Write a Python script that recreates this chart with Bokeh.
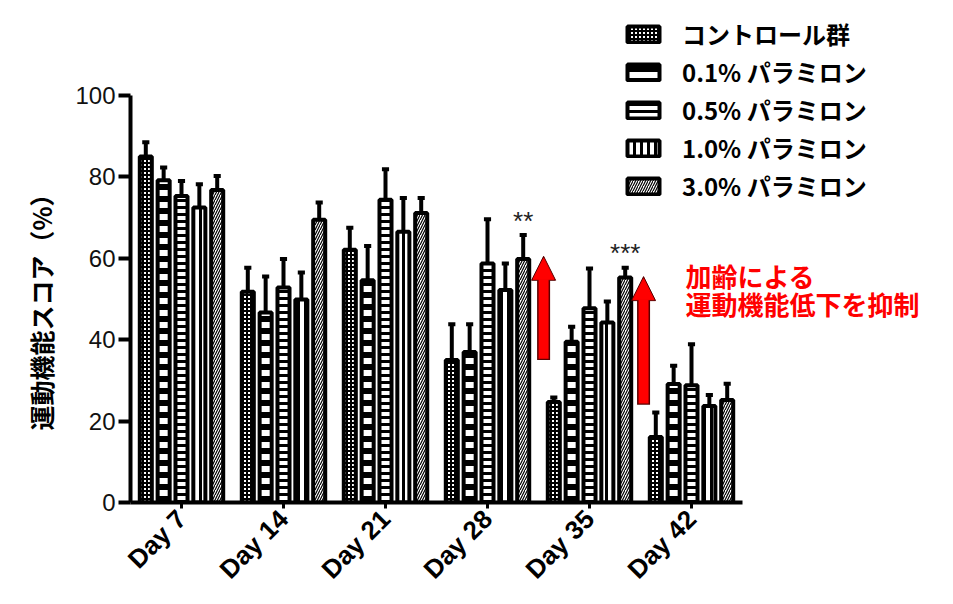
import math
from bokeh.plotting import figure
from bokeh.models import (FixedTicker, Legend, LegendItem, Label, Arrow, NormalHead,
                          ColumnDataSource, Range1d, Title)
from bokeh.embed import file_html
from bokeh.resources import INLINE

# ---------------- data ----------------
days = ["Day 7", "Day 14", "Day 21", "Day 28", "Day 35", "Day 42"]
groups = ["コントロール群", "0.1% パラミロン", "0.5% パラミロン", "1.0% パラミロン", "3.0% パラミロン"]

control = [85.0, 51.8, 62.1, 35.0, 24.7, 16.1]
control_sem = [3.5, 5.9, 5.4, 8.8, 1.1, 6.0]
p01 = [79.2, 46.7, 54.6, 37.0, 39.5, 29.1]
p01_sem = [3.1, 8.8, 8.4, 6.8, 3.7, 4.5]
p05 = [75.3, 52.8, 74.4, 58.7, 47.7, 28.8]
p05_sem = [3.7, 7.0, 7.5, 10.9, 9.8, 10.1]
p10 = [72.5, 49.9, 66.5, 52.2, 44.2, 23.7]
p10_sem = [5.7, 6.6, 8.3, 6.5, 5.2, 2.7]
p30 = [76.8, 69.5, 71.1, 59.8, 55.3, 25.2]
p30_sem = [3.4, 4.2, 3.7, 5.9, 2.4, 4.0]

y_ticks = [0, 20, 40, 60, 80, 100]
y_label = "運動機能スコア（%）"
signif = [("**", 3, 4), ("***", 4, 4)]   # (text, day index, group index)
note = ["加齢による", "運動機能低下を抑制"]

series = [control, p01, p05, p10, p30]
sems = [control_sem, p01_sem, p05_sem, p10_sem, p30_sem]

# ---------------- styles ----------------
hatches = [
    dict(hatch_pattern="+", hatch_scale=4, hatch_weight=2),
    dict(hatch_pattern="-", hatch_scale=12, hatch_weight=6),
    dict(hatch_pattern="-", hatch_scale=7, hatch_weight=3),
    dict(hatch_pattern="|", hatch_scale=7, hatch_weight=3),
    dict(hatch_pattern="/", hatch_scale=5, hatch_weight=1.2),
]
pitch = 0.175
bar_w = 0.118
PX_X = 102.0   # pixels per category
PX_Y = 4.07    # pixels per y unit
FRAME_W, FRAME_H = 823, 502

p = figure(width=953, height=604,
           x_range=Range1d(-0.5, -0.5 + FRAME_W / PX_X),
           y_range=Range1d(0, FRAME_H / PX_Y),
           output_backend="svg", toolbar_location=None,
           min_border_left=130, min_border_right=0, min_border_top=0, min_border_bottom=102)
p.outline_line_color = None
p.xgrid.visible = False
p.ygrid.visible = False
p.background_fill_color = "white"

renderers = []
for gi, (vals, sem) in enumerate(zip(series, sems)):
    xs = [i + (gi - 2) * pitch for i in range(len(days))]
    tops = [v + s for v, s in zip(vals, sem)]
    src = ColumnDataSource(dict(x=xs, top=vals, etop=tops,
                                xl=[x - 0.035 for x in xs], xr=[x + 0.035 for x in xs]))
    r = p.vbar(x="x", top="top", width=bar_w, bottom=0, source=src,
               fill_color="white", line_color="black", line_width=4,
               hatch_color="black", **hatches[gi])
    renderers.append(r)
    p.segment(x0="x", y0="top", x1="x", y1="etop", source=src, line_color="black", line_width=4)
    p.segment(x0="xl", y0="etop", x1="xr", y1="etop", source=src, line_color="black", line_width=4)

# ---------------- axes ----------------
p.xaxis.bounds = (-0.62, 5.5)
p.xaxis.ticker = FixedTicker(ticks=list(range(len(days))))
p.xaxis.major_label_overrides = {i: d for i, d in enumerate(days)}
p.xaxis.major_label_orientation = math.pi / 4
p.xaxis.major_label_text_font = "Liberation Sans"
p.xaxis.major_label_text_font_style = "bold"
p.xaxis.major_label_text_font_size = "26px"
p.xaxis.major_label_text_color = "black"
p.xaxis.major_tick_in = 0
p.xaxis.major_tick_out = 6
p.xaxis.major_tick_line_width = 3
p.xaxis.minor_tick_line_color = None
p.xaxis.axis_line_width = 4
p.xaxis.major_label_standoff = 6

p.yaxis.bounds = (0, 100)
p.yaxis.ticker = FixedTicker(ticks=y_ticks)
p.yaxis.major_label_text_font = "Liberation Sans"
p.yaxis.major_label_text_font_size = "24px"
p.yaxis.major_label_text_color = "#111111"
p.yaxis.major_tick_in = 0
p.yaxis.major_tick_out = 12
p.yaxis.major_tick_line_width = 4
p.yaxis.minor_tick_line_color = None
p.yaxis.axis_line_width = 4
p.yaxis.major_label_standoff = 3

ytitle = Title(text=y_label, align="left", offset=72, standoff=28,
               text_font="Noto Sans CJK JP", text_font_style="bold",
               text_font_size="25px", text_color="black")
p.add_layout(ytitle, "left")

# ---------------- legend ----------------
legend = Legend(items=[LegendItem(label=g, renderers=[r]) for g, r in zip(groups, renderers)],
                location=(493, 299), glyph_width=40, glyph_height=20, label_height=20,
                spacing=3, label_standoff=19, padding=0, margin=0,
                border_line_color=None, background_fill_alpha=0)
legend.label_text_font = "Noto Sans CJK JP"
legend.label_text_font_style = "bold"
legend.label_text_font_size = "24px"
legend.label_text_color = "black"
p.add_layout(legend)

# ---------------- significance marks ----------------
for txt, di, gi in signif:
    x = di + (gi - 2) * pitch
    y = series[gi][di] + sems[gi][di] + 3.5
    p.add_layout(Label(x=x, y=y, text=txt, text_align="center", text_baseline="middle",
                       text_font="Liberation Sans", text_font_size="26px", text_color="#222222"))

# ---------------- red arrows and note ----------------
arrows = [(3.55, 35.0, 61.5), (4.53, 24.0, 56.5)]
for ax, y0, y1 in arrows:
    p.add_layout(Arrow(x_start=ax, y_start=y0, x_end=ax, y_end=y1 - 1,
                       line_color="#5a0000", line_width=13,
                       end=NormalHead(size=24, fill_color="#5a0000", line_color="#5a0000", line_width=1)))
    p.add_layout(Arrow(x_start=ax, y_start=y0 + 0.3, x_end=ax, y_end=y1 - 1.5,
                       line_color="#ff0000", line_width=10,
                       end=NormalHead(size=21, fill_color="#ff0000", line_color="#ff0000", line_width=1)))

for txt, yy in zip(note, [55.8, 48.9]):
    p.add_layout(Label(x=4.94, y=yy, text=txt, text_align="left", text_baseline="middle",
                       text_font="Noto Sans CJK JP", text_font_style="bold",
                       text_font_size="26px", text_color="#ff0000"))

open("out.html", "w").write(file_html(p, INLINE))
